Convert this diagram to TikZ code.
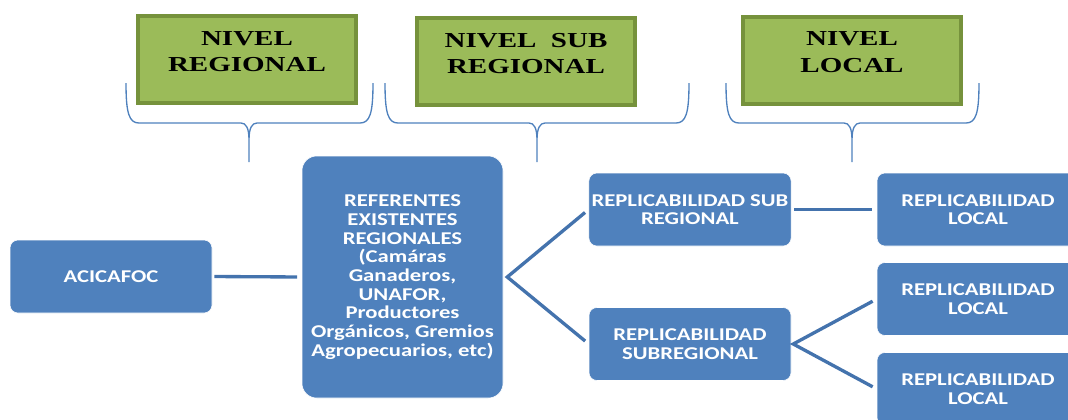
\documentclass[tikz,border=0pt]{standalone}
\usepackage{fontspec}
\usepackage{tikz}
\usetikzlibrary{positioning}

\newfontfamily\levelfont[FakeStretch=1.36]{Liberation Serif}
\newfontfamily\boxfont[FakeStretch=1.26]{Carlito}
\definecolor{levelfill}{HTML}{9BBB59}
\definecolor{leveldraw}{HTML}{76923C}
\definecolor{boxfill}{HTML}{4F81BD}
\definecolor{linkblue}{HTML}{4473AD}
\definecolor{braceblue}{HTML}{4F81BD}

\begin{document}
\begin{tikzpicture}[x=0.75pt, y=-0.75pt,
	level/.style={draw=leveldraw, fill=levelfill, line width=3pt, minimum width=163.5pt, minimum height=65.25pt, align=center, text depth=12pt, font=\levelfont\bfseries\fontsize{16}{20}\selectfont},
	box/.style={draw=white, fill=boxfill, rounded corners=6pt, minimum width=151.5pt, minimum height=54.75pt, inner sep=2pt, align=center, text=white, font=\boxfont\bfseries\fontsize{13.5}{14}\selectfont},
	link/.style={draw=linkblue, line width=2.5pt},
	brace/.style={draw=braceblue, line width=1pt}]
	
			\useasboundingbox (0,0) rectangle (1068,419);
			\clip (0,0) rectangle (1068,419);
			
			\node[level] (regional) at (247,59.5) {NIVEL\\REGIONAL};
			\node[level] (subregional) at (526,61.5) {NIVEL\ \ SUB\\REGIONAL};
			\node[level] (local) at (852,60) {NIVEL\\LOCAL};
			
			\foreach \l/\t/\r in {126/249/373, 385/537/689, 726/852/979}
			\draw[brace] (\l,83) .. controls (\l,113) and (\l+3,123) .. (\l+13,123) -- (\t-8,123) .. controls (\t-3,123) and (\t,128) .. (\t,140) -- (\t,162)
				(\t,140) .. controls (\t,128) and (\t+3,123) .. (\t+8,123) -- (\r-13,123) .. controls (\r-3,123) and (\r,113) .. (\r,83);
			
			\node[box] (acicafoc) at (111,276.5) {ACICAFOC};
			\node[box, minimum width=150.75pt, minimum height=181.5pt, rounded corners=11pt] (referentes) at (402.5,277) {REFERENTES\\EXISTENTES\\REGIONALES\\(Camáras\\Ganaderos,\\UNAFOR,\\Productores\\Orgánicos, Gremios\\Agropecuarios, etc)};
			\node[box] (repsub) at (690,209.5) {REPLICABILIDAD SUB\\REGIONAL};
			\node[box] (repsubreg) at (690,344) {REPLICABILIDAD\\SUBREGIONAL};
			\node[box] (local1) at (978,209.5) {REPLICABILIDAD\\LOCAL};
			\node[box] (local2) at (978,299) {REPLICABILIDAD\\LOCAL};
			\node[box] (local3) at (978,389) {REPLICABILIDAD\\LOCAL};
			
			\coordinate (split1) at ([xshift=3pt]referentes.east);
			\coordinate (split2) at ([xshift=1.5pt]repsubreg.east);
			
			\draw[link, shorten <=1.5pt, shorten >=3.5pt] (acicafoc.east) -- (referentes.west);
			\draw[link, shorten <=3.5pt, shorten >=3.5pt] (repsub.west) -- (split1) -- (repsubreg.west);
			\draw[link, shorten <=2pt, shorten >=3.5pt] (repsub.east) -- (local1.west);
			\draw[link, shorten <=3.5pt, shorten >=3.5pt] (local2.west) -- (split2) -- (local3.west);
			
			\end{tikzpicture}
\end{document}
